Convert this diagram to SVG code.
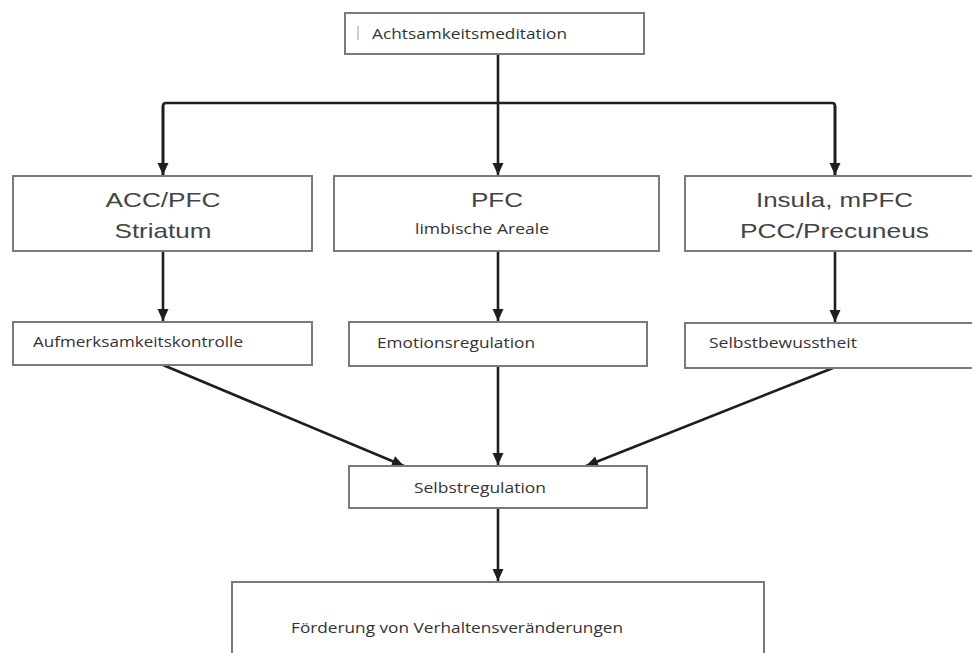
<svg xmlns="http://www.w3.org/2000/svg" width="972" height="653" viewBox="0 0 972 653">
<style>
.box{fill:#fff;stroke:#7a7a7a;stroke-width:2}
.big{font-family:"Liberation Sans",Arial,sans-serif;font-size:21px;fill:#444;text-anchor:middle}
.sm{font-family:"Open Sans","Noto Sans",sans-serif;font-size:15px;fill:#333}
.con{fill:none;stroke:#1e1e1e;stroke-width:2.6}
</style>
<defs>
<marker id="ah" markerUnits="userSpaceOnUse" markerWidth="14" markerHeight="14" viewBox="0 0 14 14" refX="13" refY="7" orient="auto">
<path d="M1,1.5 L13,7 L1,12.5 Z" fill="#1e1e1e"/>
</marker>
</defs>
<rect width="972" height="653" fill="#fff"/>
<g id="connectors">
<line class="con" x1="498" y1="54" x2="498" y2="103"/>
<path class="con" d="M163,176 V106 Q163,103 166,103 H832 Q835,103 835,106 V176" stroke-linejoin="round"/>
<path class="con" d="M163,106 V175" marker-end="url(#ah)"/>
<path class="con" d="M498,103 V175" marker-end="url(#ah)"/>
<path class="con" d="M835,106 V175" marker-end="url(#ah)"/>
<line class="con" x1="163" y1="251" x2="163" y2="321" marker-end="url(#ah)"/>
<line class="con" x1="498" y1="251" x2="498" y2="321" marker-end="url(#ah)"/>
<line class="con" x1="835" y1="251" x2="835" y2="322" marker-end="url(#ah)"/>
<line class="con" x1="163" y1="365" x2="404" y2="466" marker-end="url(#ah)"/>
<line class="con" x1="498" y1="366" x2="498" y2="465" marker-end="url(#ah)"/>
<line class="con" x1="833" y1="368" x2="586" y2="466" marker-end="url(#ah)"/>
<line class="con" x1="498" y1="508" x2="498" y2="581" marker-end="url(#ah)"/>
</g>
<g id="n-achtsamkeit">
<rect class="box" x="345" y="13" width="299" height="41"/>
<line x1="358" y1="26" x2="358" y2="40" stroke="#999" stroke-width="1"/>
<text class="sm" x="372" y="39" font-size="16" textLength="195" lengthAdjust="spacingAndGlyphs">Achtsamkeitsmeditation</text>
</g>
<g id="n-acc">
<rect class="box" x="13" y="176" width="299" height="75"/>
<text class="big" x="163" y="207" textLength="115" lengthAdjust="spacingAndGlyphs">ACC/PFC</text>
<text class="big" x="163" y="238" textLength="97" lengthAdjust="spacingAndGlyphs">Striatum</text>
</g>
<g id="n-pfc">
<rect class="box" x="334" y="176" width="325" height="75"/>
<text class="big" x="497" y="207" textLength="52" lengthAdjust="spacingAndGlyphs">PFC</text>
<text class="sm" x="415" y="234" textLength="134" lengthAdjust="spacingAndGlyphs">limbische Areale</text>
</g>
<g id="n-insula">
<rect class="box" x="685" y="176" width="295" height="75"/>
<text class="big" x="834.5" y="207" textLength="157" lengthAdjust="spacingAndGlyphs">Insula, mPFC</text>
<text class="big" x="834.5" y="238" textLength="189" lengthAdjust="spacingAndGlyphs">PCC/Precuneus</text>
</g>
<g id="n-aufmerksamkeit">
<rect class="box" x="13" y="322" width="299" height="43"/>
<text class="sm" x="33" y="347" textLength="210" lengthAdjust="spacingAndGlyphs">Aufmerksamkeitskontrolle</text>
</g>
<g id="n-emotion">
<rect class="box" x="349" y="322" width="298" height="44"/>
<text class="sm" x="377" y="348" textLength="158" lengthAdjust="spacingAndGlyphs">Emotionsregulation</text>
</g>
<g id="n-selbstbewusstheit">
<rect class="box" x="685" y="323" width="295" height="45"/>
<text class="sm" x="709" y="348" textLength="148" lengthAdjust="spacingAndGlyphs">Selbstbewusstheit</text>
</g>
<g id="n-selbstregulation">
<rect class="box" x="349" y="466" width="298" height="42"/>
<text class="sm" x="414" y="493" textLength="132" lengthAdjust="spacingAndGlyphs">Selbstregulation</text>
</g>
<g id="n-foerderung">
<rect class="box" x="232" y="582" width="532" height="80"/>
<text class="sm" x="291" y="633" textLength="332" lengthAdjust="spacingAndGlyphs">Förderung von Verhaltensveränderungen</text>
</g>
</svg>
